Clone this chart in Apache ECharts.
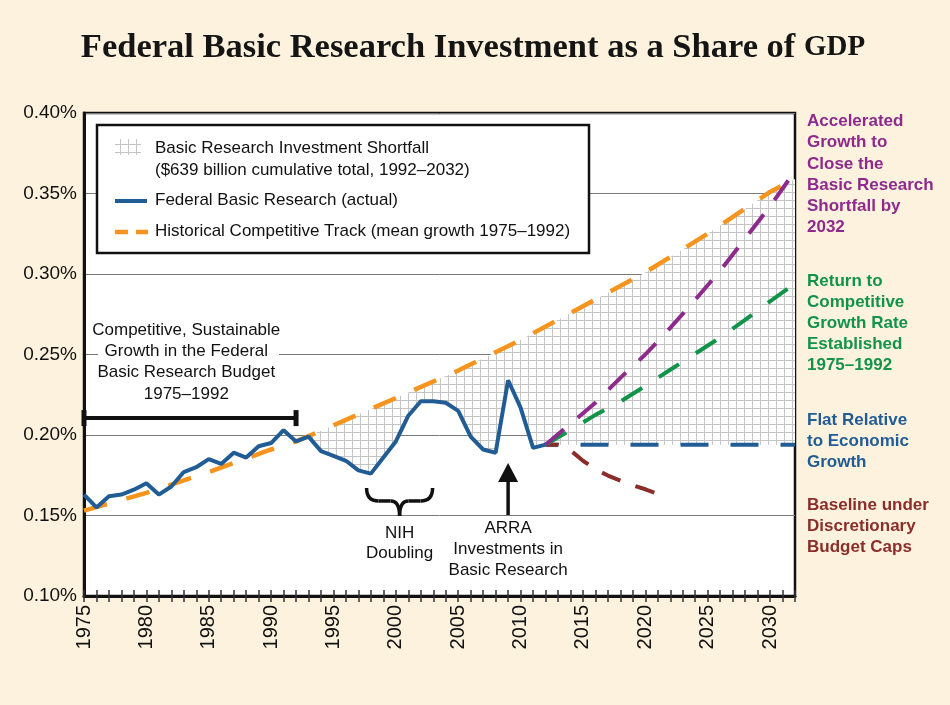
<!DOCTYPE html>
<html>
<head>
<meta charset="utf-8">
<title>Federal Basic Research Investment as a Share of GDP</title>
<script src="https://cdn.jsdelivr.net/npm/echarts@6.0.0/dist/echarts.min.js"></script>
<style>
  html, body { margin: 0; padding: 0; background: #fdf2dd; }
  #main { width: 950px; height: 705px; }
</style>
</head>
<body>
<div id="main"></div>
<script>
// federal basic research, actual (% of GDP)
var actualYears = [1975, 1976, 1977, 1978, 1979, 1980, 1981, 1982, 1983, 1984,
    1985, 1986, 1987, 1988, 1989, 1990, 1991, 1992, 1993, 1994,
    1995, 1996, 1997, 1998, 1999, 2000, 2001, 2002, 2003, 2004,
    2005, 2006, 2007, 2008, 2009, 2010, 2011, 2012];
var actualValues = [0.163, 0.155, 0.162, 0.163, 0.166, 0.170, 0.163, 0.168, 0.177, 0.180,
    0.185, 0.182, 0.189, 0.186, 0.193, 0.195, 0.203, 0.196, 0.199, 0.190,
    0.187, 0.184, 0.178, 0.176, 0.186, 0.196, 0.212, 0.221, 0.221, 0.220,
    0.215, 0.199, 0.191, 0.189, 0.234, 0.217, 0.192, 0.194];

// historical competitive track (mean growth 1975-1992)
var trackYears = [1975, 1980, 1985, 1990, 1992, 1995, 2000, 2005, 2010, 2015, 2020, 2025, 2030, 2032];
var trackValues = [0.153, 0.164, 0.177, 0.191, 0.196, 0.206, 0.223, 0.240, 0.259, 0.280, 0.301, 0.325, 0.351, 0.359];

// projections 2012-2032
var projYears = [2012, 2014, 2016, 2018, 2020, 2022, 2024, 2026, 2028, 2030, 2032];
var acceleratedValues = [0.194, 0.207, 0.220, 0.2355, 0.250, 0.2665, 0.284, 0.302, 0.322, 0.342, 0.364];
var competitiveValues = [0.194, 0.203, 0.2125, 0.2207, 0.2305, 0.2405, 0.2505, 0.2605, 0.2715, 0.283, 0.294];

var flatYears = [2012, 2032];
var flatValues = [0.194, 0.194];

var baselineYears = [2012, 2013, 2014, 2015, 2016, 2017, 2018, 2019, 2020, 2021];
var baselineValues = [0.194, 0.194, 0.1905, 0.184, 0.1787, 0.1748, 0.1716, 0.1687, 0.1663, 0.1635];

var bracketYears = [1975, 1992];
var bracketLevel = 0.2105;

var labelYears = [1975, 1980, 1985, 1990, 1995, 2000, 2005, 2010, 2015, 2020, 2025, 2030];

var BLUE = '#215d94', ORANGE = '#f7941e', PURPLE = '#8e2a8c', GREEN = '#12934a', BROWN = '#8b2d2a';
var SANS = 'Liberation Sans, Arial, sans-serif';
var SERIF = 'Liberation Serif, Times New Roman, serif';

function pairs(xs, ys) {
    return xs.map(function (x, i) { return [x, ys[i]]; });
}

// light grey grid used for the shortfall area
var hatchCanvas = document.createElement('canvas');
hatchCanvas.width = 8;
hatchCanvas.height = 8;
var hctx = hatchCanvas.getContext('2d');
hctx.fillStyle = '#ffffff';
hctx.fillRect(0, 0, 8, 8);
hctx.fillStyle = '#c4c4c4';
hctx.fillRect(0, 0, 8, 1);
hctx.fillRect(0, 0, 1, 8);
var hatch = { image: hatchCanvas, repeat: 'repeat' };

function renderShortfall(params, api) {
    var pts = [];
    for (var i = 0; i < trackYears.length; i++) {
        if (trackYears[i] >= 1992) pts.push(api.coord([trackYears[i], trackValues[i]]));
    }
    pts.push(api.coord([flatYears[1], flatValues[1]]));
    pts.push(api.coord([flatYears[0], flatValues[0]]));
    for (var j = actualYears.length - 1; j >= 0; j--) {
        if (actualYears[j] >= 1992) pts.push(api.coord([actualYears[j], actualValues[j]]));
    }
    return {
        type: 'polygon',
        shape: { points: pts },
        style: { fill: hatch, stroke: null }
    };
}

var chart = echarts.init(document.getElementById('main'));

var option = {
    backgroundColor: '#fdf2dd',
    animation: false,
    grid: {
        left: 84,
        right: 155,
        top: 113,
        bottom: 109,
        show: true,
        backgroundColor: '#ffffff',
        borderColor: '#111111',
        borderWidth: 2.5,
        containLabel: false,
        outerBoundsMode: 'none'
    },
    xAxis: [{
        type: 'value',
        min: 1975,
        max: 2032,
        interval: 1,
        axisLine: { show: true, lineStyle: { color: '#111', width: 3 } },
        axisTick: { show: true, length: 6, lineStyle: { color: '#333', width: 1.5 } },
        splitLine: { show: false },
        axisLabel: {
            rotate: 90,
            margin: 9,
            fontFamily: SANS,
            fontSize: 20,
            color: '#111',
            formatter: function (v) {
                return labelYears.indexOf(v) >= 0 ? String(v) : '';
            }
        }
    }, {
        type: 'value',
        min: 1975,
        max: 2032,
        interval: 1,
        position: 'bottom',
        axisLine: { show: false },
        axisTick: { show: true, inside: true, length: 6, lineStyle: { color: '#333', width: 1.5 } },
        axisLabel: { show: false },
        splitLine: { show: false }
    }],
    yAxis: {
        type: 'value',
        min: 0.10,
        max: 0.40,
        interval: 0.05,
        axisLine: { show: true, lineStyle: { color: '#111', width: 3 } },
        axisTick: { show: false },
        splitLine: { show: true, lineStyle: { color: '#7a7a7a', width: 1 } },
        axisLabel: {
            margin: 7,
            fontFamily: SANS,
            fontSize: 19,
            color: '#111',
            formatter: function (v) { return v.toFixed(2) + '%'; }
        }
    },
    series: [{
        name: 'Basic Research Investment Shortfall',
        type: 'custom',
        renderItem: renderShortfall,
        data: [[1992, 0.2]],
        z: 1,
        silent: true
    }, {
        name: 'Historical Competitive Track',
        type: 'line',
        data: pairs(trackYears, trackValues),
        showSymbol: false,
        lineStyle: { color: ORANGE, width: 4.5, type: [24, 20] },
        z: 3
    }, {
        name: 'Flat Relative to Economic Growth',
        type: 'line',
        data: pairs(flatYears, flatValues),
        showSymbol: false,
        lineStyle: { color: BLUE, width: 4, type: [28, 22], dashOffset: 15 },
        z: 3
    }, {
        name: 'Baseline under Discretionary Budget Caps',
        type: 'line',
        data: pairs(baselineYears, baselineValues),
        showSymbol: false,
        lineStyle: { color: BROWN, width: 4, type: [20, 16], dashOffset: 7 },
        z: 4
    }, {
        name: 'Return to Competitive Growth Rate',
        type: 'line',
        data: pairs(projYears, competitiveValues),
        showSymbol: false,
        lineStyle: { color: GREEN, width: 4, type: [24, 20] },
        z: 4
    }, {
        name: 'Accelerated Growth',
        type: 'line',
        data: pairs(projYears, acceleratedValues),
        showSymbol: false,
        lineStyle: { color: PURPLE, width: 4, type: [24, 18] },
        z: 5
    }, {
        name: 'Federal Basic Research (actual)',
        type: 'line',
        data: pairs(actualYears, actualValues),
        showSymbol: false,
        lineStyle: { color: BLUE, width: 4 },
        z: 6
    }, {
        name: 'bracket',
        type: 'line',
        data: pairs(bracketYears, [bracketLevel, bracketLevel]),
        symbol: 'rect',
        symbolSize: [5, 16],
        showSymbol: true,
        clip: false,
        itemStyle: { color: '#111' },
        lineStyle: { color: '#111', width: 4 },
        z: 6
    }]
};

chart.setOption(option);

// annotations, placed through the axes
function px(year, val) {
    return chart.convertToPixel({ gridIndex: 0 }, [year, val]);
}

var braceC = px(2000.3, 0.1671);   // top centre of the brace
var arrowTip = px(2009, 0.1826);
var compC = px(1983.2, 0.2);

function txt(x, y, text, color, size, family, weight, align, lh) {
    return {
        type: 'text',
        z: 100,
        style: {
            x: x, y: y, text: text, fill: color,
            fontSize: size, fontFamily: family, fontWeight: weight || 'normal',
            align: align || 'center', verticalAlign: 'top', lineHeight: lh || 21.3
        }
    };
}

function curve(x1, y1, cx, cy, x2, y2) {
    return { type: 'bezierCurve', z: 100,
        shape: { x1: x1, y1: y1, cpx1: cx, cpy1: cy, x2: x2, y2: y2 },
        style: { fill: null, stroke: '#111', lineWidth: 3.5 } };
}

function seg(x1, y1, x2, y2, color, w) {
    return { type: 'line', z: 101, shape: { x1: x1, y1: y1, x2: x2, y2: y2 },
        style: { stroke: color, lineWidth: w } };
}

var bx = braceC[0], by = braceC[1];
var graphics = [
    // title
    { type: 'text', z: 100, style: {
        x: 473, y: 48, align: 'center', verticalAlign: 'middle',
        text: 'Federal Basic Research Investment as a Share of {sc|GDP}',
        fontFamily: SERIF, fontSize: 34.5, fontWeight: 'bold', fill: '#151515',
        rich: { sc: { fontFamily: SERIF, fontSize: 29, fontWeight: 'bold', fill: '#151515' } }
    } },

    // legend box
    { type: 'rect', z: 100, shape: { x: 97, y: 125, width: 492, height: 128 },
      style: { fill: '#fff', stroke: '#111', lineWidth: 2.5 } },
    { type: 'rect', z: 101, shape: { x: 115, y: 139, width: 26, height: 16 },
      style: { fill: hatch, stroke: null } },
    seg(115, 201, 147, 201, BLUE, 4),
    seg(115, 232, 128, 232, ORANGE, 4.5),
    seg(136, 232, 148, 232, ORANGE, 4.5),
    txt(155, 137.5, 'Basic Research Investment Shortfall\n($639 billion cumulative total, 1992\u20132032)', '#111', 17, SANS, 'normal', 'left', 21.6),
    txt(155, 190, 'Federal Basic Research (actual)', '#111', 17, SANS, 'normal', 'left'),
    txt(155, 221, 'Historical Competitive Track (mean growth 1975\u20131992)', '#111', 17, SANS, 'normal', 'left'),

    // competitive growth note
    { type: 'rect', z: 99, shape: { x: 98, y: 318, width: 181, height: 88 }, style: { fill: '#fff' } },
    txt(compC[0], 319.5, 'Competitive, Sustainable\nGrowth in the Federal\nBasic Research Budget\n1975\u20131992', '#111', 17, SANS),

    // NIH brace
    curve(bx - 33, by, bx - 33, by + 13, bx - 21, by + 13),
    seg(bx - 21, by + 13, bx - 9, by + 13, '#111', 3.5),
    curve(bx - 9, by + 13, bx, by + 13, bx, by + 28),
    curve(bx, by + 28, bx, by + 13, bx + 9, by + 13),
    seg(bx + 9, by + 13, bx + 21, by + 13, '#111', 3.5),
    curve(bx + 21, by + 13, bx + 33, by + 13, bx + 33, by),
    txt(bx, 523, 'NIH\nDoubling', '#111', 17, SANS, 'normal', 'center', 20.5),

    // ARRA arrow
    seg(arrowTip[0], arrowTip[1] + 15, arrowTip[0], arrowTip[1] + 52, '#111', 3.5),
    { type: 'polygon', z: 100, shape: { points: [[arrowTip[0], arrowTip[1]], [arrowTip[0] - 10, arrowTip[1] + 19], [arrowTip[0] + 10, arrowTip[1] + 19]] },
      style: { fill: '#111' } },
    txt(arrowTip[0], 517.5, 'ARRA\nInvestments in\nBasic Research', '#111', 17, SANS, 'normal', 'center', 21.3),

    // right-hand scenario labels
    txt(807, 111, 'Accelerated\nGrowth to\nClose the\nBasic Research\nShortfall by\n2032', PURPLE, 17, SANS, 'bold', 'left', 21.2),
    txt(807, 270.4, 'Return to\nCompetitive\nGrowth Rate\nEstablished\n1975\u20131992', GREEN, 17, SANS, 'bold', 'left', 21.2),
    txt(807, 409.4, 'Flat Relative\nto Economic\nGrowth', BLUE, 17, SANS, 'bold', 'left', 21.2),
    txt(807, 494.4, 'Baseline under\nDiscretionary\nBudget Caps', BROWN, 17, SANS, 'bold', 'left', 21.2)
];

chart.setOption({ graphic: graphics });
</script>
</body>
</html>
